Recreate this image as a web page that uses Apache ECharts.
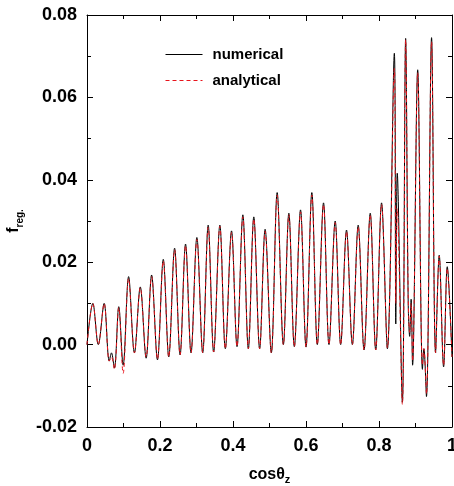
<!DOCTYPE html>
<html>
<head>
<meta charset="utf-8">
<script src="https://cdn.jsdelivr.net/npm/echarts@6/dist/echarts.min.js"></script>
<style>
html,body{margin:0;padding:0;background:#fff;}
#c{width:454px;height:486px;}
</style>
</head>
<body>
<div id="c"></div>
<script>
// cos(theta_z) sample positions (peaks and troughs)
var cosTheta = [0.000,0.016,0.031,0.047,0.061,0.067,0.075,0.087,0.099,0.114,0.130,0.146,0.162,0.177,0.193,0.209,0.224,0.240,0.255,0.270,0.285,0.301,0.317,0.332,0.347,0.364,0.379,0.396,0.411,0.427,0.442,0.457,0.473,0.488,0.505,0.521,0.538,0.553,0.568,0.585,0.600,0.616,0.631,0.648,0.663,0.680,0.695,0.711,0.727,0.743,0.759,0.776,0.791,0.807,0.823,0.842,0.846,0.850,0.864,0.873,0.880,0.884,0.888,0.892,0.906,0.919,0.923,0.930,0.944,0.955,0.965,0.977,0.987,1.000];
var numerical = [0.000,0.010,0.000,0.010,-0.004,-0.002,-0.0057,0.0092,-0.005,0.0165,-0.002,0.014,-0.0033,0.0169,-0.0037,0.0207,-0.003,0.0234,-0.0025,0.0244,-0.002,0.026,-0.002,0.029,-0.0018,0.029,-0.001,0.0276,-0.0005,0.0315,-0.001,0.031,-0.001,0.028,-0.002,0.0369,0.000,0.0319,-0.0005,0.0327,-0.0006,0.0369,0.000,0.0344,0.000,0.030,0.000,0.0278,0.000,0.029,-0.0013,0.0319,-0.0013,0.0344,-0.001,0.0707,0.005,0.0416,-0.014,0.0743,0.010,0.002,0.011,-0.005,0.0667,-0.006,-0.001,-0.0126,0.0745,-0.002,0.0217,-0.0054,0.0189,-0.003];
var analytical = [0.000,0.010,0.000,0.010,-0.004,-0.003,-0.006,0.009,-0.007,0.016,-0.002,0.0138,-0.003,0.0165,-0.0035,0.0203,-0.003,0.023,-0.0025,0.024,-0.002,0.0255,-0.002,0.0285,-0.0018,0.0287,-0.001,0.0272,-0.0005,0.031,-0.001,0.0305,-0.001,0.0275,-0.002,0.0363,0.000,0.0315,-0.0005,0.0322,-0.0006,0.0363,0.000,0.034,0.000,0.0296,0.000,0.0274,0.000,0.0286,-0.0013,0.0315,-0.0013,0.034,-0.0008,0.067,0.010,0.033,-0.0145,0.074,0.012,0.003,0.010,-0.004,0.066,-0.005,-0.001,-0.012,0.0735,-0.002,0.0215,-0.005,0.0185,-0.003];
var xTicks = {min:0, max:1, interval:0.2};
var yTicks = {min:-0.02, max:0.08, interval:0.02};

function pairs(xs, ys){ return xs.map(function(x,i){return [x, ys[i]];}); }

var FONT = "'Liberation Sans',Arial,sans-serif";
var BLACK = '#000', RED = '#e8141c';
var chart = echarts.init(document.getElementById('c'), null, {renderer:'canvas'});
var axisCommon = {
  axisLine:{show:true, onZero:false, lineStyle:{color:'#000', width:1}},
  axisTick:{show:true, inside:true, length:6, lineStyle:{color:'#000'}},
  minorTick:{show:true, splitNumber:2, length:4, lineStyle:{color:'#000'}},
  splitLine:{show:false}
};
function ax(extra){ return Object.assign({}, JSON.parse(JSON.stringify(axisCommon)), extra); }

chart.setOption({
  animation:false,
  backgroundColor:'#fff',
  grid:{left:87, right:2, top:15, bottom:59, containLabel:false, outerBoundsMode:'none'},
  legend:{
    orient:'vertical', left:160, top:42, itemWidth:37, itemHeight:12, itemGap:11,
    itemStyle:{opacity:0},
    textStyle:{fontFamily:FONT, fontSize:15, fontWeight:'bold', color:'#000', padding:[0,0,0,5]},
    data:[
      {name:'numerical', lineStyle:{color:BLACK, width:1, type:'solid'}},
      {name:'analytical', lineStyle:{color:RED, width:1, type:[4,3]}}
    ]
  },
  xAxis:[
    ax({type:'value', min:xTicks.min, max:xTicks.max, interval:xTicks.interval, position:'bottom',
      axisLabel:{color:'#000', fontFamily:FONT, fontSize:18, fontWeight:'bold', margin:10,
        formatter:function(v){ return (v===0||v===1)? String(v) : v.toFixed(1); }},
      name:'{a|cosθ}{s|z}', nameLocation:'middle', nameGap:38,
      nameTextStyle:{rich:{a:{fontFamily:FONT, fontSize:16, fontWeight:'bold', color:'#000'},
                           s:{fontFamily:FONT, fontSize:11, fontWeight:'bold', color:'#000', padding:[9,0,0,0]}}}
    }),
    ax({type:'value', min:xTicks.min, max:xTicks.max, interval:xTicks.interval, position:'top', axisLabel:{show:false}})
  ],
  yAxis:[
    ax({type:'value', min:yTicks.min, max:yTicks.max, interval:yTicks.interval, position:'left',
      axisLabel:{color:'#000', fontFamily:FONT, fontSize:18, fontWeight:'bold', margin:10,
        formatter:function(v){ return v.toFixed(2); }},
      name:'{a|f}{s|reg.}', nameLocation:'middle', nameGap:58, nameRotate:90,
      nameTextStyle:{rich:{a:{fontFamily:FONT, fontSize:16, fontWeight:'bold', color:'#000'},
                           s:{fontFamily:FONT, fontSize:10, fontWeight:'bold', color:'#000', padding:[12,0,0,0]}}}
    }),
    ax({type:'value', min:yTicks.min, max:yTicks.max, interval:yTicks.interval, position:'right', axisLabel:{show:false}})
  ],
  series:[
    {name:'numerical', type:'line', data:pairs(cosTheta, numerical), symbol:'none', smooth:0.35,
     lineStyle:{color:BLACK, width:1}, itemStyle:{color:BLACK}, z:2},
    {name:'analytical', type:'line', data:pairs(cosTheta, analytical), symbol:'none', smooth:0.35,
     lineStyle:{color:RED, width:1, type:[4,3]}, itemStyle:{color:RED}, z:3}
  ]
});
</script>
</body>
</html>
